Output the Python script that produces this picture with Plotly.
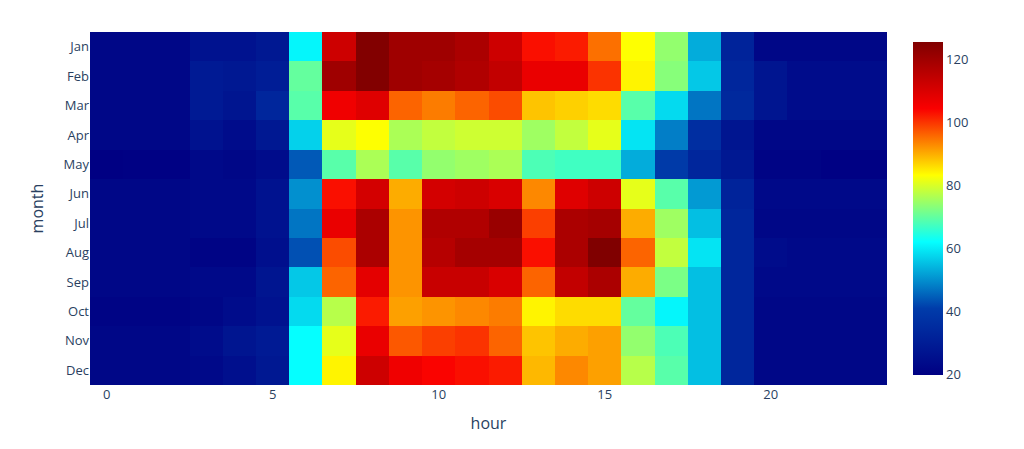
import plotly.graph_objects as go

hours = list(range(24))
months = ["Jan", "Feb", "Mar", "Apr", "May", "Jun", "Jul", "Aug", "Sep", "Oct", "Nov", "Dec"]

jan = [22, 22, 22, 26, 26, 28, 61, 112, 125, 120, 120, 118, 112, 103, 102, 95, 83, 74, 53, 32, 22, 22, 22, 22]
feb = [22, 22, 22, 29, 28, 30, 70, 120, 125, 120, 119, 117, 114, 107, 107, 100, 84, 73, 56, 33, 27, 24, 24, 24]
mar = [22, 22, 22, 29, 27, 33, 69, 106, 109, 96, 94, 96, 98, 88, 87, 86, 69, 58, 47, 34, 27, 24, 24, 24]
apr = [22, 22, 22, 26, 24, 28, 57, 81, 83, 76, 78, 79, 79, 75, 78, 81, 59, 48, 36, 27, 22, 22, 22, 22]
may = [19.7, 20, 20, 23, 22, 24, 44, 69, 76, 69, 74, 75, 76, 68, 67, 67, 53, 40, 33, 28, 21, 21, 20, 20]
jun = [22, 22, 22, 23, 23, 26, 50, 103, 111, 90, 111, 112, 110, 93, 109, 112, 81, 69, 51, 32, 23, 23, 23, 23]
jul = [22, 22, 22, 23, 23, 26, 47, 107, 118, 92, 117, 117, 121, 99, 118, 119, 90, 75, 55, 33, 22, 22, 22, 22]
aug = [22, 22, 22, 21, 21, 25, 43, 98, 118, 92, 116, 119, 119, 103, 118, 125.4, 96, 78, 59, 33, 24, 23, 23, 23]
sep = [22, 22, 22, 23, 23, 27, 56, 96, 108, 92, 113, 113, 110, 96, 114, 118, 90, 72, 55, 33, 23, 23, 23, 23]
oct_ = [21, 21, 21, 22, 24, 26, 58, 77, 102, 91, 92, 93, 94, 84, 86, 86, 70, 61, 55, 33, 22, 22, 22, 22]
nov = [22, 22, 22, 24, 27, 29, 62, 81, 107, 97, 99, 100, 96, 88, 90, 91, 74, 68, 55, 33, 22, 22, 22, 22]
dec = [22, 22, 22, 23, 25, 28, 62, 84, 112, 106, 104, 103, 102, 89, 93, 91, 77, 69, 55, 33, 22, 22, 22, 22]

z = [jan, feb, mar, apr, may, jun, jul, aug, sep, oct_, nov, dec]

fig = go.Figure(
    go.Heatmap(
        x=hours,
        y=months,
        z=z,
        colorscale="Jet",
        colorbar=dict(tickfont=dict(size=13)),
    )
)

fig.update_layout(
    width=1008,
    height=433,
    margin=dict(l=82, r=129, t=24, b=54),
    font=dict(family="Open Sans, verdana, arial, sans-serif", size=13, color="#2a3f5f"),
    paper_bgcolor="white",
    plot_bgcolor="white",
    xaxis=dict(title=dict(text="hour", font=dict(size=16)), tickmode="linear", tick0=0, dtick=5, showgrid=False, zeroline=False),
    yaxis=dict(title=dict(text="month", font=dict(size=16)), autorange="reversed", showgrid=False),
)

fig.write_html("out.html")
